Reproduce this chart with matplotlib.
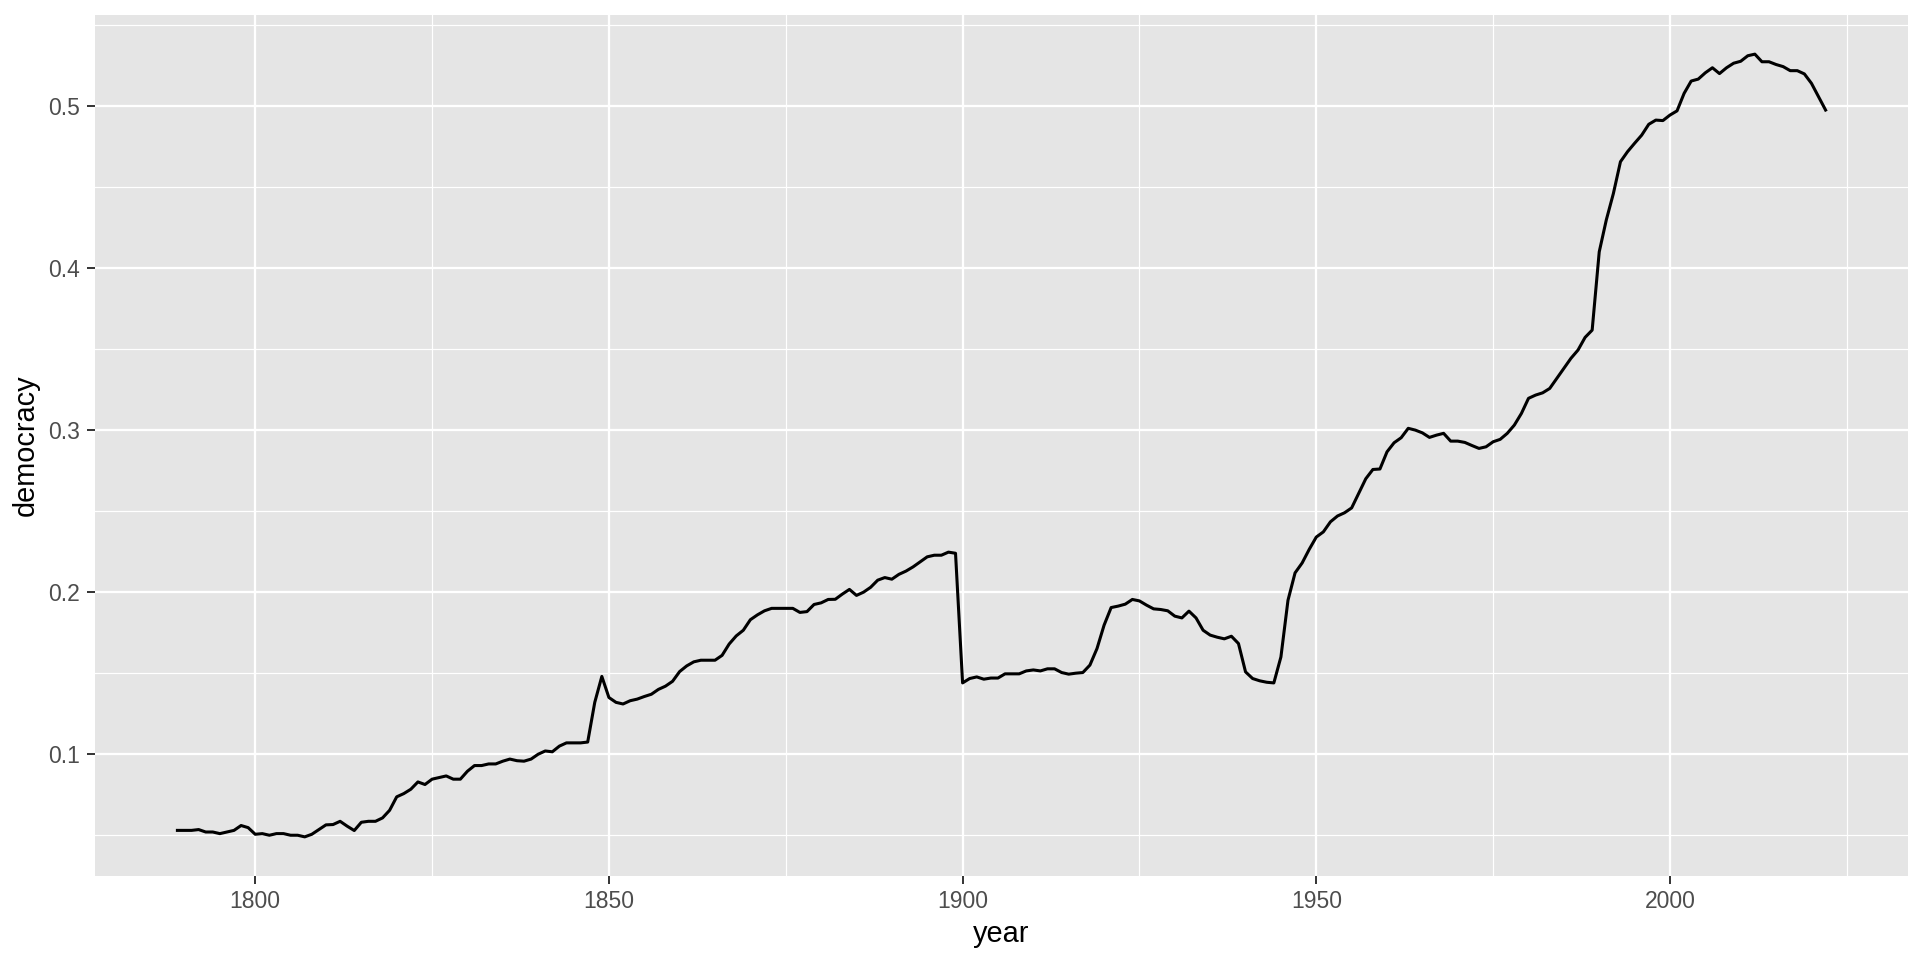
import matplotlib
matplotlib.use("Agg")
import matplotlib.pyplot as plt
from matplotlib.ticker import FixedLocator, FormatStrFormatter

plt.rcParams["font.family"] = ["Liberation Sans", "DejaVu Sans"]

# yearly democracy index
years = list(range(1789, 2023))
democracy = [
    0.053, 0.053, 0.053, 0.0535, 0.052, 0.052, 0.051, 0.052, 0.053, 0.056, 0.0547,  # 1789-1799
    0.0506, 0.051, 0.050, 0.051, 0.051, 0.050, 0.050, 0.049, 0.0506, 0.0535,  # 1800s
    0.0564, 0.0566, 0.0586, 0.0556, 0.0529, 0.058, 0.0586, 0.0586, 0.0607, 0.0654,  # 1810s
    0.0737, 0.0757, 0.0784, 0.0829, 0.0813, 0.0846, 0.0856, 0.0866, 0.0846, 0.0846,  # 1820s
    0.0895, 0.093, 0.093, 0.094, 0.094, 0.0957, 0.097, 0.096, 0.0957, 0.097,  # 1830s
    0.100, 0.102, 0.1015, 0.105, 0.107, 0.107, 0.107, 0.1075, 0.132, 0.148,  # 1840s
    0.135, 0.132, 0.131, 0.133, 0.134, 0.1356, 0.137, 0.140, 0.142, 0.145,  # 1850s
    0.151, 0.1545, 0.157, 0.158, 0.158, 0.158, 0.161, 0.168, 0.173, 0.1765,  # 1860s
    0.183, 0.186, 0.1885, 0.190, 0.190, 0.190, 0.190, 0.1875, 0.188, 0.1924,  # 1870s
    0.1934, 0.1955, 0.1956, 0.1988, 0.2017, 0.198, 0.200, 0.203, 0.2074, 0.209,  # 1880s
    0.208, 0.211, 0.213, 0.2156, 0.2187, 0.2218, 0.2228, 0.2228, 0.2247, 0.224,  # 1890s
    0.144, 0.1467, 0.1477, 0.1463, 0.147, 0.147, 0.1496, 0.1496, 0.1496, 0.1514,  # 1900s
    0.152, 0.1514, 0.1527, 0.1527, 0.1504, 0.1494, 0.150, 0.1504, 0.155, 0.1652,  # 1910s
    0.1796, 0.1905, 0.1914, 0.1926, 0.1955, 0.1946, 0.192, 0.1897, 0.1893, 0.1885,  # 1920s
    0.1852, 0.1841, 0.1883, 0.1841, 0.1765, 0.1735, 0.1722, 0.1712, 0.1728, 0.1683,  # 1930s
    0.1508, 0.1467, 0.1453, 0.1444, 0.144, 0.160, 0.195, 0.2119, 0.218, 0.2264,  # 1940s
    0.234, 0.2372, 0.2434, 0.247, 0.249, 0.252, 0.261, 0.270, 0.2757, 0.276,  # 1950s
    0.2866, 0.2922, 0.2953, 0.3011, 0.300, 0.2983, 0.2955, 0.2969, 0.298, 0.2932,  # 1960s
    0.2932, 0.2924, 0.2905, 0.2887, 0.2897, 0.2928, 0.2943, 0.298, 0.3031, 0.3103,  # 1970s
    0.3196, 0.3216, 0.323, 0.3257, 0.3319, 0.338, 0.3443, 0.3494, 0.3572, 0.3617,  # 1980s
    0.410, 0.4297, 0.446, 0.4656, 0.4718, 0.477, 0.482, 0.4887, 0.4913, 0.491,  # 1990s
    0.4944, 0.497, 0.5078, 0.5154, 0.5166, 0.5205, 0.5236, 0.520, 0.5236, 0.5264,  # 2000s
    0.5276, 0.531, 0.532, 0.5273, 0.5273, 0.5256, 0.5243, 0.5218, 0.5218, 0.5198,  # 2010s
    0.514, 0.5058, 0.4975,  # 2020-2022
]
x_ticks = [1800, 1850, 1900, 1950, 2000]
x_minor = [1825, 1875, 1925, 1975, 2025]
y_ticks = [0.1, 0.2, 0.3, 0.4, 0.5]
y_minor = [0.05, 0.15, 0.25, 0.35, 0.45, 0.55]

fig = plt.figure(figsize=(19.2, 9.6), dpi=100)
ax = fig.add_axes([95 / 1920, 1 - 876 / 960, (1908 - 95) / 1920, (876 - 15) / 960])
ax.set_facecolor("#E5E5E5")
for s in ax.spines.values():
    s.set_visible(False)

ax.plot(years, democracy, color="black", linewidth=2.2, solid_joinstyle="round")

# ggplot-like 5% expansion
xpad = (max(years) - min(years)) * 0.05
ypad = (max(democracy) - min(democracy)) * 0.05
ax.set_xlim(min(years) - xpad, max(years) + xpad)
ax.set_ylim(min(democracy) - ypad, max(democracy) + ypad)

ax.xaxis.set_major_locator(FixedLocator(x_ticks))
ax.xaxis.set_minor_locator(FixedLocator(x_minor))
ax.yaxis.set_major_locator(FixedLocator(y_ticks))
ax.yaxis.set_minor_locator(FixedLocator(y_minor))
ax.yaxis.set_major_formatter(FormatStrFormatter("%g"))

ax.grid(which="major", color="white", linewidth=1.65)
ax.grid(which="minor", color="white", linewidth=0.85)
ax.set_axisbelow(True)

ax.tick_params(which="major", length=5.8, width=1.4, color="#333333",
               labelcolor="#4D4D4D", labelsize=16.5)
ax.tick_params(axis="x", which="major", pad=4)
ax.tick_params(axis="y", which="major", pad=5)
ax.tick_params(which="minor", length=0)

ax.set_xlabel("year", fontsize=20.8, color="black", labelpad=5)
ax.set_ylabel("democracy", fontsize=20.8, color="black", labelpad=6)

fig.savefig("out.png", dpi=100, facecolor="white")
